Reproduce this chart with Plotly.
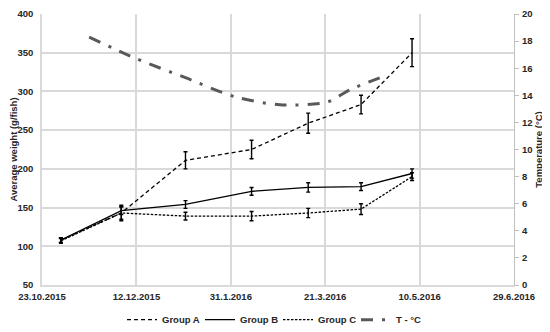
import plotly.graph_objects as go

dates = ["2015-11-02", "2015-12-04", "2016-01-07", "2016-02-11", "2016-03-12", "2016-04-09", "2016-05-06"]
group_a = [108, 143, 211, 225, 259, 283, 350]
group_a_err = [3, 8, 11, 12, 13, 12, 18]
group_b = [108, 146, 154, 171, 176, 177, 194]
group_b_err = [3, 5, 5, 5, 6, 5, 6]
group_c = [107, 143, 139, 139, 143, 148, 190]
group_c_err = [3, 10, 5, 6, 6, 7, 5]

temp_dates = ["2015-11-17", "2015-12-12", "2016-01-07", "2016-02-02", "2016-02-26", "2016-03-22", "2016-04-03", "2016-04-21"]
temp_values = [18.3, 16.7, 15.3, 13.9, 13.3, 13.5, 14.4, 15.4]

x_tickvals = ["2015-10-23", "2015-12-12", "2016-01-31", "2016-03-21", "2016-05-10", "2016-06-29"]
x_ticktext = ["23.10.2015", "12.12.2015", "31.1.2016", "21.3.2016", "10.5.2016", "29.6.2016"]

FONT = "Liberation Sans"
TXT = "#262626"
TICKFONT = dict(family=FONT, size=9.5, color=TXT, weight="bold")

fig = go.Figure()


def err(vals):
    return dict(type="data", array=vals, visible=True, color="black", thickness=1.4, width=2)


fig.add_trace(go.Scatter(x=dates, y=group_a, name="<b>Group A</b>", mode="lines",
                         line=dict(color="black", width=1.3, dash="4px,3px"),
                         error_y=err(group_a_err)))
fig.add_trace(go.Scatter(x=dates, y=group_b, name="<b>Group B</b>", mode="lines",
                         line=dict(color="black", width=1.3),
                         error_y=err(group_b_err)))
fig.add_trace(go.Scatter(x=dates, y=group_c, name="<b>Group C</b>", mode="lines",
                         line=dict(color="black", width=1.3, dash="2.5px,1.5px"),
                         error_y=err(group_c_err)))
fig.add_trace(go.Scatter(x=temp_dates, y=temp_values, name="<b>T - °C</b>", mode="lines",
                         yaxis="y2",
                         line=dict(color="#595959", width=3, dash="12px,9px,3px,9px", shape="spline", smoothing=0.8)))

# page has an 8px body margin: figure drawn at (8, 8) inside the 550x332 window
fig.update_layout(
    width=542, height=324,
    margin=dict(l=34, r=36, t=6, b=47, autoexpand=False),
    paper_bgcolor="white", plot_bgcolor="white",
    font=dict(family=FONT, size=9.5, color=TXT),
    showlegend=True,
    legend=dict(orientation="h", x=0.5, xanchor="center", y=-0.128, yanchor="middle",
                font=dict(family=FONT, size=9.5, color=TXT), itemwidth=30,
                entrywidth=33, entrywidthmode="pixels",
                tracegroupgap=0),
    xaxis=dict(type="date", range=["2015-10-23", "2016-06-29"], automargin=False,
               tickmode="array", tickvals=x_tickvals, ticktext=x_ticktext,
               tickfont=TICKFONT, ticklabelstandoff=2, ticklabeloverflow="allow",
               showgrid=True, gridcolor="#d9d9d9", gridwidth=1.5,
               showline=True, linecolor="#d9d9d9", linewidth=1.5, ticks="", zeroline=False),
    yaxis=dict(range=[50, 400], dtick=50, tickformat="d", automargin=False,
               tickfont=TICKFONT, ticklabelstandoff=5, ticklabeloverflow="allow",
               showgrid=True, gridcolor="#d9d9d9", gridwidth=1.5,
               showline=True, linecolor="#d9d9d9", linewidth=1.5, zeroline=False,
               title=dict(text="<b>Average weight (g/fish)</b>", font=dict(family=FONT, size=9.5, color=TXT), standoff=2)),
    yaxis2=dict(range=[0, 20], dtick=2, overlaying="y", side="right", automargin=False,
                tickfont=TICKFONT, ticklabelstandoff=1, ticklabeloverflow="allow",
                showgrid=False, zeroline=False,
                showline=True, linecolor="#bfbfbf", linewidth=1.2,
                ticks="outside", ticklen=4, tickcolor="#bfbfbf",
                title=dict(text="<b>Temperature (°C)</b>", font=dict(family=FONT, size=9.5, color=TXT), standoff=3)),
)

fig.write_html("out.html")
